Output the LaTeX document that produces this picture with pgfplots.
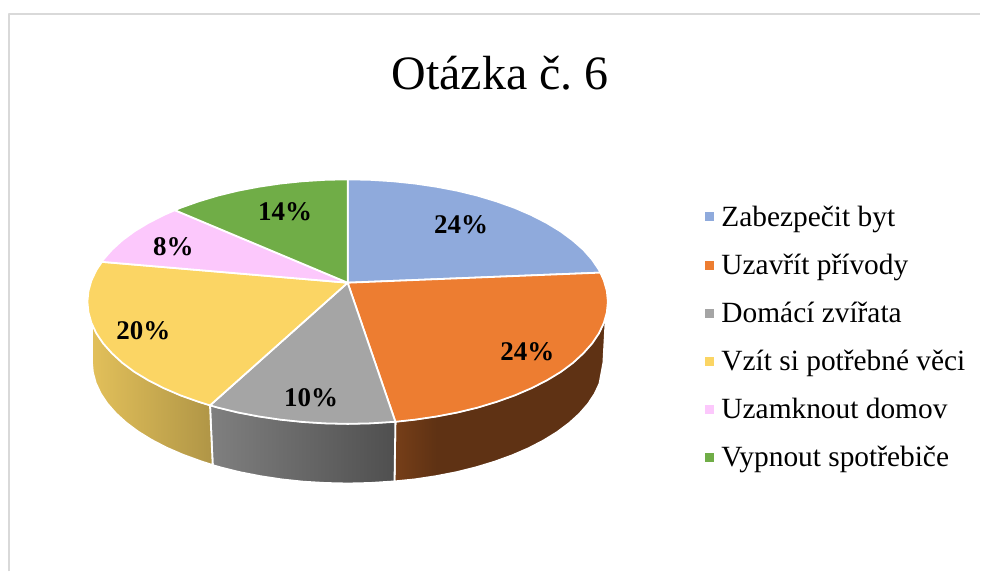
\documentclass[border=0pt]{standalone}
\usepackage{pgfplots}
\pgfplotsset{compat=1.18}
\usepackage{fontspec}
\setmainfont{Liberation Serif}
\frenchspacing
\definecolor{cblue}{HTML}{8FAADC}
\definecolor{corange}{HTML}{ED7D31}
\definecolor{cgray}{HTML}{A5A5A5}
\definecolor{cyellow}{HTML}{FBD564}
\definecolor{cpink}{HTML}{FCC8FC}
\definecolor{cgreen}{HTML}{70AD47}
\definecolor{frame}{HTML}{D9D9D9}
\pgfdeclarehorizontalshading{orangewall}{100bp}{color(0bp)=(corange!50!black); color(25bp)=(corange!50!black); color(35bp)=(corange!40!black); color(75bp)=(corange!40!black); color(100bp)=(corange!40!black)}
\begin{document}
\begin{tikzpicture}
\begin{axis}[
  at={(0pt,0pt)}, anchor=south west,
  scale only axis, width=981pt, height=572pt,
  xmin=0, xmax=981, ymin=0, ymax=572, y dir=reverse,
  hide axis, clip=false,
  legend image code/.code={\fill[#1,draw=none] (0pt,-4.5pt) rectangle (9pt,4.5pt);},
  legend cell align=left,
  legend style={at={(axis cs:702.5,202)}, anchor=north west, draw=none, fill=none,
    font=\fontsize{29.4}{31}\selectfont, row sep=22.2pt,
    /tikz/column 1/.style={column sep=5.5pt},
    nodes={inner sep=2pt}},
  every axis plot/.append style={line join=round},
]
% frame
\addplot[forget plot, frame, line width=2pt] coordinates {(9,572) (9,14) (981,14)};
% walls
\addplot[forget plot, shading=orangewall, draw=white, line width=1.8pt] coordinates {
(395.8,421.9)(415.3,419.8)(436.9,416.6)(457.9,412.6)(478,407.7)(497.1,401.9)(515.1,395.5)(531.8,388.3)(547.2,380.4)(561,372)(573.2,363)(583.6,353.6)(592.3,343.7)(599.1,333.6)(604,323.2)(606.5,316)
(604,363)(600.1,384)(595.3,394.3)(588.6,404.4)(580.1,414.1)(569.8,423.5)(557.9,432.4)(544.3,440.8)(529.3,448.6)(512.9,455.7)(495.3,462.1)(476.5,467.8)(456.8,472.7)(436.2,476.7)(415,479.9)(394.9,481.9)} -- cycle;
\addplot[forget plot, shade, left color=black!50, right color=black!69, draw=white, line width=1.8pt] coordinates {
(210.2,405.5)(218,407.7)(238.1,412.6)(259.1,416.6)(280.7,419.8)(302.9,422.1)(325.3,423.5)(348,424)(370.7,423.5)(395.8,421.9)
(394.9,481.9)(370.2,483.5)(348,484)(325.8,483.5)(303.7,482.2)(282,479.9)(260.8,476.7)(240.2,472.7)(220.5,467.8)(212.9,465.6)} -- cycle;
\addplot[forget plot, shade, left color=cyellow!90!black, right color=cyellow!70!black, draw=white, line width=1.8pt] coordinates {
(92,323.2)(96.9,333.6)(103.7,343.7)(112.4,353.6)(122.8,363)(135,372)(148.8,380.4)(164.2,388.3)(180.9,395.5)(198.9,401.9)(210.2,405.5)
(212.9,465.6)(200.7,461.6)(183.1,455.2)(166.7,448.1)(151.7,440.3)(138.1,431.9)(126.2,423)(115.9,413.6)(107.4,403.9)(100.7,393.8)(95.9,383.5)(93,373)(92,362.5)} -- cycle;
% top slices
\addplot[fill=cblue, draw=white, line width=1.8pt] coordinates {
(348,283)(348,179.5)(370.7,180)(393.1,181.4)(415.3,183.7)(436.9,186.9)(457.9,190.9)(478,195.8)(497.1,201.6)(515.1,208)(531.8,215.2)(547.2,223.1)(561,231.5)(573.2,240.5)(584,250)(592.8,260)(599.6,270.1)(601,272.9)} -- cycle;
\addlegendentry{Zabezpečit byt}
\addplot[fill=corange, draw=white, line width=1.8pt] coordinates {
(348,283)(601,272.9)(604.5,280.8)(607.5,291.4)(608.5,302)(607.5,312.6)(604.5,323.2)(599.6,333.6)(592.8,343.7)(584,353.6)(573.6,363.2)(561.4,372.3)(547.5,380.7)(532,388.6)(515.3,395.8)(497.3,402.2)(478.2,408)(458,412.9)(437,416.9)(415.3,420.1)(395.8,422.2)} -- cycle;
\addlegendentry{Uzavřít přívody}
\addplot[fill=cgray, draw=white, line width=1.8pt] coordinates {
(348,283)(395.8,422.2)(370.7,423.8)(348,424.3)(325.3,423.8)(302.9,422.4)(280.7,420.1)(259.1,416.9)(238.1,412.9)(218,408)(210.2,405.8)} -- cycle;
\addlegendentry{Domácí zvířata}
\addplot[fill=cyellow, draw=white, line width=1.8pt] coordinates {
(348,283)(210.2,405.8)(198.7,402.2)(180.7,395.8)(164,388.6)(148.5,380.7)(134.6,372.3)(122.4,363.2)(112,353.6)(103.2,343.7)(96.4,333.6)(91.5,323.2)(88.5,312.6)(87.5,302)(88.5,291.4)(91.5,280.8)(96.4,270.4)(102,262.1)} -- cycle;
\addlegendentry{Vzít si potřebné věci}
\addplot[fill=cpink, draw=white, line width=1.8pt] coordinates {
(348,283)(102,262.1)(103.2,260)(112,250)(122.4,240.5)(134.6,231.5)(148.5,223.1)(164,215.2)(175,210.4)} -- cycle;
\addlegendentry{Uzamknout domov}
\addplot[fill=cgreen, draw=white, line width=1.8pt] coordinates {
(348,283)(175,210.4)(180.7,208)(198.7,201.6)(218,195.8)(238.1,190.9)(259.1,186.9)(280.7,183.7)(302.9,181.4)(325.3,180)(348,179.5)} -- cycle;
\addlegendentry{Vypnout spotřebiče}
% labels
\node[font=\fontsize{27}{28}\selectfont\bfseries] at (axis cs:461.5,225) {24\%};
\node[font=\fontsize{27}{28}\selectfont\bfseries] at (axis cs:528,352) {24\%};
\node[font=\fontsize{27}{28}\selectfont\bfseries] at (axis cs:311.5,398) {10\%};
\node[font=\fontsize{27}{28}\selectfont\bfseries] at (axis cs:143.5,331) {20\%};
\node[font=\fontsize{27}{28}\selectfont\bfseries] at (axis cs:173.5,247) {8\%};
\node[font=\fontsize{27}{28}\selectfont\bfseries] at (axis cs:285.5,212) {14\%};
\node[font=\fontsize{48}{50}\selectfont] at (axis cs:500.5,73) {Otázka č. 6};
\end{axis}
\path (0pt,0pt) rectangle (981pt,572pt);
\end{tikzpicture}
\end{document}
